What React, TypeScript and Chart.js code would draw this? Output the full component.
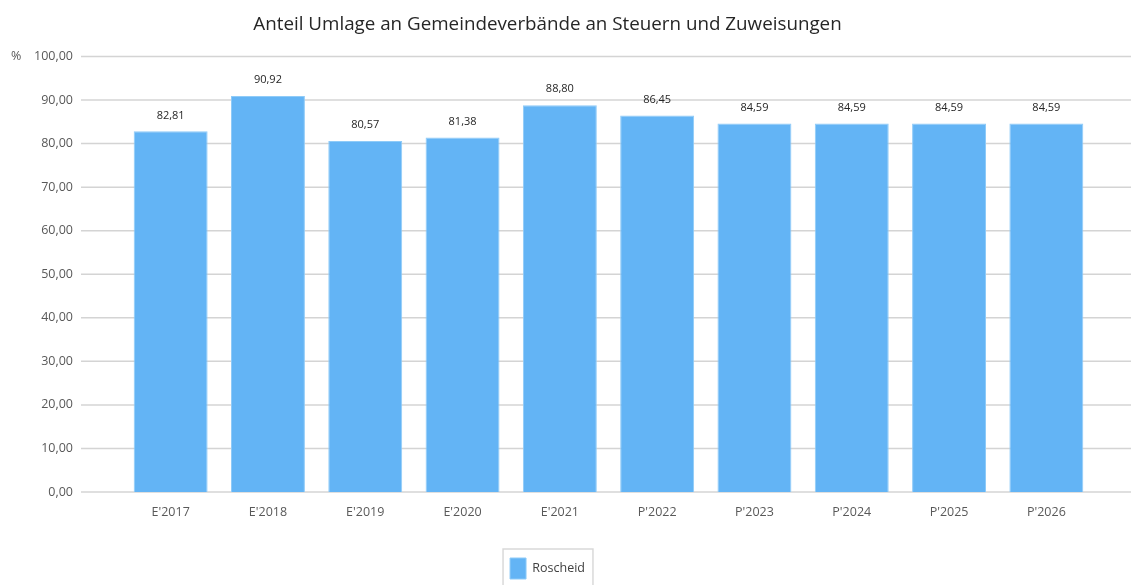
import React, { useEffect, useRef } from 'react';
import { Chart, registerables } from 'chart.js';

Chart.register(...registerables);

const categories = ["E'2017", "E'2018", "E'2019", "E'2020", "E'2021", "P'2022", "P'2023", "P'2024", "P'2025", "P'2026"];
const values = [82.81, 90.92, 80.57, 81.38, 88.8, 86.45, 84.59, 84.59, 84.59, 84.59];
const seriesName = 'Roscheid';
const titleText = 'Anteil Umlage an Gemeindeverbände an Steuern und Zuweisungen';
const unitLabel = '%';

const FONT = "'Open Sans', 'Noto Sans', sans-serif";
const fmt = (v: number) => v.toFixed(2).replace('.', ',');

const extGrid = {
  id: 'extGrid',
  beforeDatasetsDraw(chart: any) {
    const y = chart.scales.y;
    const ctx = chart.ctx;
    const left = chart.chartArea.left - 41;
    ctx.save();
    ctx.strokeStyle = '#d4d4d4';
    ctx.lineWidth = 1.5;
    y.ticks.forEach((t: any) => {
      const py = y.getPixelForValue(t.value);
      ctx.beginPath();
      ctx.moveTo(left, py);
      ctx.lineTo(chart.width, py);
      ctx.stroke();
    });
    ctx.fillStyle = '#595959';
    ctx.font = `12.5px ${FONT}`;
    ctx.textAlign = 'left';
    ctx.textBaseline = 'middle';
    ctx.fillText(unitLabel, 11, y.getPixelForValue(100));
    ctx.restore();
  },
  afterDatasetsDraw(chart: any) {
    const ctx = chart.ctx;
    const meta = chart.getDatasetMeta(0);
    ctx.save();
    ctx.fillStyle = '#262626';
    ctx.font = `11px ${FONT}`;
    ctx.textAlign = 'center';
    ctx.textBaseline = 'middle';
    meta.data.forEach((bar: any, i: number) => {
      ctx.fillText(fmt(values[i]), bar.x, bar.y - 16);
    });
    ctx.restore();
  },
  afterDraw(chart: any) {
    const hb = chart.legend && chart.legend.legendHitBoxes && chart.legend.legendHitBoxes[0];
    if (!hb) return;
    const ctx = chart.ctx;
    ctx.save();
    ctx.strokeStyle = '#d9d9d9';
    ctx.lineWidth = 1.5;
    ctx.strokeRect(hb.left - 7, hb.top - 9, hb.width + 15, chart.height - hb.top + 20);
    ctx.restore();
  },
};

export default function App() {
  const ref = useRef<HTMLCanvasElement | null>(null);
  useEffect(() => {
    if (!ref.current) return;
    const chart = new Chart(ref.current, {
      type: 'bar',
      data: {
        labels: categories,
        datasets: [
          {
            label: seriesName,
            data: values,
            backgroundColor: '#63B4F5',
            borderColor: '#8FCBF8',
            borderWidth: 1,
            barPercentage: 0.76,
            categoryPercentage: 1,
          },
        ],
      },
      options: {
        animation: false,
        responsive: true,
        maintainAspectRatio: false,
        layout: { padding: { left: 0, right: 36, top: 0, bottom: -4 } },
        plugins: {
          title: {
            display: true,
            text: titleText,
            color: '#262626',
            font: { family: FONT, size: 18.8, weight: 'normal' },
            padding: { top: 4, bottom: 21 },
          },
          legend: {
            display: true,
            position: 'bottom',
            onClick: () => {},
            labels: {
              boxWidth: 16,
              boxHeight: 21,
              color: '#404040',
              padding: 14,
              font: { family: FONT, size: 12.5 },
            },
          },
          tooltip: { enabled: false },
        },
        scales: {
          x: {
            grid: { display: false, drawTicks: false },
            border: { display: false },
            afterFit: (scale: any) => {
              scale.height += 11;
            },
            ticks: { color: '#595959', font: { family: FONT, size: 12.5 }, padding: 13 },
          },
          y: {
            min: 0,
            max: 100,
            grid: { display: false, drawTicks: false },
            border: { display: false },
            afterFit: (scale: any) => {
              scale.width = 122;
            },
            ticks: {
              stepSize: 10,
              color: '#595959',
              padding: 49,
              font: { family: FONT, size: 12.5 },
              callback: (v: any) => fmt(Number(v)),
            },
          },
        },
      },
      plugins: [extGrid],
    });
    return () => chart.destroy();
  }, []);
  return (
    <div style={{ position: 'fixed', left: 0, top: 0, width: 1131, height: 585, background: '#fff' }}>
      <canvas ref={ref} />
    </div>
  );
}
